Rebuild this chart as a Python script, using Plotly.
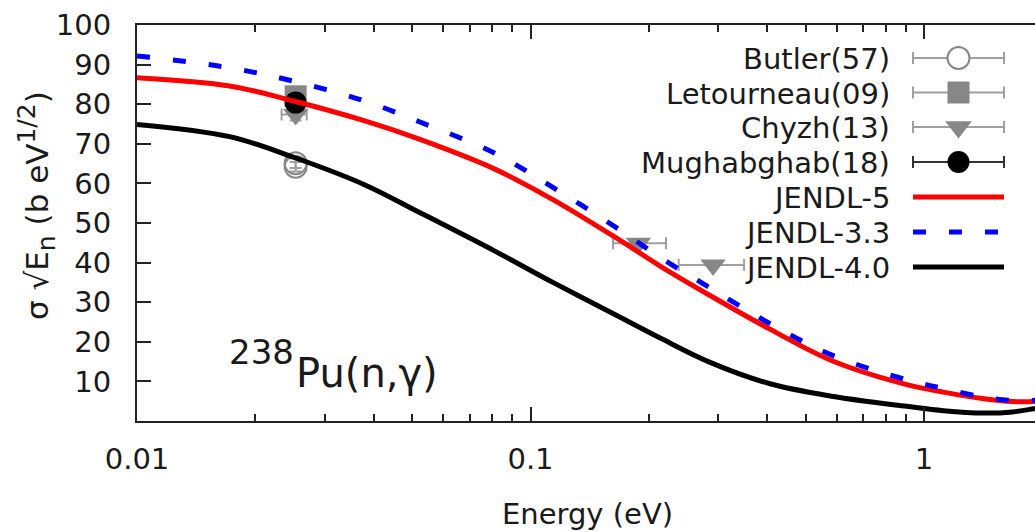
import math
import plotly.graph_objects as go

# Evaluated capture cross section times sqrt(E) for 238Pu
energy = [0.0100, 0.0172, 0.0250, 0.0376, 0.0524, 0.0812, 0.114, 0.169, 0.213,
          0.286, 0.406, 0.588, 0.904, 1.12, 1.42, 1.68, 1.90, 2.00]
jendl5 = [86.7, 84.6, 80.8, 75.9, 71.1, 63.6, 55.9, 45.6, 39.2,
          31.7, 23.2, 15.1, 9.2, 7.3, 5.6, 4.9, 4.9, 5.1]
jendl33 = [92.2, 89.2, 85.8, 80.9, 75.5, 67.6, 59.0, 48.2, 41.4,
           33.6, 24.6, 16.5, 10.4, 8.2, 6.0, 5.2, 5.2, 5.4]
jendl40 = [74.9, 71.8, 66.6, 59.8, 52.6, 42.9, 35.0, 26.2, 21.0,
           14.8, 9.4, 6.2, 3.7, 2.6, 2.0, 2.3, 3.1, 3.5]

# Experimental data
butler_e = [0.0253, 0.0253]
butler_v = [65.1, 64.2]
butler_err = [1.2, 1.2]

letourneau_e = [0.0253]
letourneau_v = [82.0]
letourneau_err = [1.5]

chyzh_e = [0.0253, 0.188, 0.291]
chyzh_v = [77.4, 44.9, 39.4]
chyzh_elo = [0.0233, 0.162, 0.238]
chyzh_ehi = [0.0270, 0.221, 0.349]
chyzh_err = [1.5, 0.5, 0.5]

mughabghab_e = [0.0253]
mughabghab_v = [80.4]
mughabghab_err = [1.5]

legend_labels = ["Butler(57)", "Letourneau(09)", "Chyzh(13)", "Mughabghab(18)",
                 "JENDL-5", "JENDL-3.3", "JENDL-4.0"]

x_ticks = [0.01, 0.1, 1]
x_ticktext = ["0.01", "0.1", "1"]
x_minor = [0.02, 0.03, 0.04, 0.05, 0.06, 0.07, 0.08, 0.09,
           0.2, 0.3, 0.4, 0.5, 0.6, 0.7, 0.8, 0.9, 2]
y_ticks = [10, 20, 30, 40, 50, 60, 70, 80, 90, 100]

GRAY = "#878787"
GRAY_BAR = "#a0a0a0"
FONT = "DejaVu Sans"
TXT = "#1a1a1a"

W, H = 1035, 532
L, T, B = 137, 25, 111


def px(xp):
    return (xp - L) / (W - L)


def py(yp):
    return (H - B - yp) / (H - B - T)


fig = go.Figure()

# --- measured points (drawn under the evaluated curves) ---
fig.add_trace(go.Scatter(
    x=butler_e, y=butler_v, mode="markers",
    marker=dict(symbol="circle-open", size=22, color=GRAY, line=dict(width=2, color=GRAY)),
    error_y=dict(type="data", array=butler_err, color=GRAY_BAR, thickness=2, width=6),
    showlegend=False))
fig.add_trace(go.Scatter(
    x=letourneau_e, y=letourneau_v, mode="markers",
    marker=dict(symbol="square", size=22, color=GRAY),
    error_y=dict(type="data", array=letourneau_err, color=GRAY_BAR, thickness=2, width=6),
    showlegend=False))
fig.add_trace(go.Scatter(
    x=chyzh_e, y=chyzh_v, mode="markers",
    marker=dict(symbol="triangle-down", size=22, color=GRAY),
    error_x=dict(type="data", symmetric=False,
                 array=[h - e for h, e in zip(chyzh_ehi, chyzh_e)],
                 arrayminus=[e - l for l, e in zip(chyzh_elo, chyzh_e)],
                 color=GRAY_BAR, thickness=2, width=6),
    error_y=dict(type="data", array=chyzh_err, color=GRAY_BAR, thickness=2, width=6),
    showlegend=False))
fig.add_trace(go.Scatter(
    x=mughabghab_e, y=mughabghab_v, mode="markers",
    marker=dict(symbol="circle", size=22, color="black"),
    error_y=dict(type="data", array=mughabghab_err, color="#333333", thickness=2, width=6),
    showlegend=False))

# --- evaluated curves ---
fig.add_trace(go.Scatter(x=energy, y=jendl5, mode="lines",
                         line=dict(color="#ff0000", width=5, shape="spline", smoothing=1.0),
                         showlegend=False))
fig.add_trace(go.Scatter(x=energy, y=jendl33, mode="lines",
                         line=dict(color="#0000ff", width=5, dash="13px,23px",
                                   shape="spline", smoothing=1.0),
                         showlegend=False))
fig.add_trace(go.Scatter(x=energy, y=jendl40, mode="lines",
                         line=dict(color="black", width=5, shape="spline", smoothing=1.0),
                         showlegend=False))

# --- key, drawn on a pixel-based overlay axis pair ---
key_y = [58, 92.5, 127, 162, 197, 232, 267]
key_x0, key_x1, key_xm = 913, 1004, 958.5
half = (key_x1 - key_x0) / 2
key_markers = [
    dict(symbol="circle", size=22, color="white", line=dict(width=2, color=GRAY)),
    dict(symbol="square", size=22, color=GRAY),
    dict(symbol="triangle-down", size=23, color=GRAY),
    dict(symbol="circle", size=22, color="black"),
]
key_bar_colors = [GRAY_BAR, GRAY_BAR, GRAY_BAR, "#333333"]
for i in range(4):
    fig.add_trace(go.Scatter(
        x=[key_xm], y=[key_y[i]], mode="markers", xaxis="x2", yaxis="y2",
        marker=key_markers[i],
        error_x=dict(type="data", array=[half], color=key_bar_colors[i], thickness=2, width=6),
        showlegend=False, hoverinfo="skip"))
key_lines = [
    dict(color="#ff0000", width=5),
    dict(color="#0000ff", width=5, dash="13px,23px"),
    dict(color="black", width=5),
]
for j, ln in enumerate(key_lines):
    fig.add_trace(go.Scatter(
        x=[key_x0, key_x1], y=[key_y[4 + j]] * 2, mode="lines", xaxis="x2", yaxis="y2",
        line=ln, showlegend=False, hoverinfo="skip"))

annotations = []
for lab, yy in zip(legend_labels, key_y):
    annotations.append(dict(x=px(892), y=py(yy + 1), xref="paper", yref="paper", text=lab,
                            showarrow=False, xanchor="right", yanchor="middle",
                            font=dict(family=FONT, size=29, color=TXT)))

# reaction label
annotations.append(dict(x=px(227), y=py(352), xref="paper", yref="paper", text="238",
                        showarrow=False, xanchor="left", yanchor="middle",
                        font=dict(family=FONT, size=34, color=TXT)))
annotations.append(dict(x=px(294), y=py(373), xref="paper", yref="paper", text="Pu(n,γ)",
                        showarrow=False, xanchor="left", yanchor="middle",
                        font=dict(family=FONT, size=40, color=TXT)))

# axis titles
annotations.append(dict(x=px(587), y=py(514), xref="paper", yref="paper", text="Energy (eV)",
                        showarrow=False, xanchor="center", yanchor="middle",
                        font=dict(family=FONT, size=29, color=TXT)))
annotations.append(dict(x=px(36), y=py(206), xref="paper", yref="paper",
                        text=("σ √E<sub><span style='font-size:25px'>n</span></sub> "
                              "(b eV<sup><span style='font-size:25px'>1/2</span></sup>)"),
                        textangle=-90,
                        showarrow=False, xanchor="center", yanchor="middle",
                        font=dict(family=FONT, size=31, color=TXT)))

x_hi = 10 ** (-2 + (W - L) / 393.5)

fig.update_layout(
    width=W, height=H,
    margin=dict(l=L, r=0, t=T, b=B, pad=0),
    paper_bgcolor="white", plot_bgcolor="white",
    font=dict(family=FONT, size=29, color=TXT),
    showlegend=False,
    xaxis=dict(type="log", range=[-2, math.log10(x_hi)],
               tickmode="array", tickvals=x_ticks, ticktext=x_ticktext,
               ticks="inside", ticklen=14, tickwidth=2, tickcolor="#222222",
               minor=dict(tickmode="array", tickvals=x_minor, ticks="inside",
                          ticklen=7, tickwidth=2, tickcolor="#222222", showgrid=False),
               showline=True, linecolor="#222222", linewidth=2, mirror="ticks",
               showgrid=False, zeroline=False, ticklabelstandoff=11,
               tickfont=dict(family=FONT, size=29, color=TXT)),
    yaxis=dict(range=[0, 100], tickmode="array", tickvals=y_ticks,
               ticks="inside", ticklen=14, tickwidth=2, tickcolor="#222222",
               showline=True, linecolor="#222222", linewidth=2, mirror=False,
               showgrid=False, zeroline=False, ticklabelstandoff=18,
               tickfont=dict(family=FONT, size=29, color=TXT)),
    yaxis3=dict(range=[0, 100], overlaying="y", side="right", anchor="x",
                tickmode="array", tickvals=y_ticks, ticks="inside", ticklen=7,
                tickwidth=2, tickcolor="#555555", showticklabels=False,
                showline=False, showgrid=False, zeroline=False),
    xaxis2=dict(range=[L, W], overlaying="x", anchor="y2", visible=False),
    yaxis2=dict(range=[H - B, T], overlaying="y", anchor="x2", visible=False),
    annotations=annotations,
)

fig.write_html("out.html")
